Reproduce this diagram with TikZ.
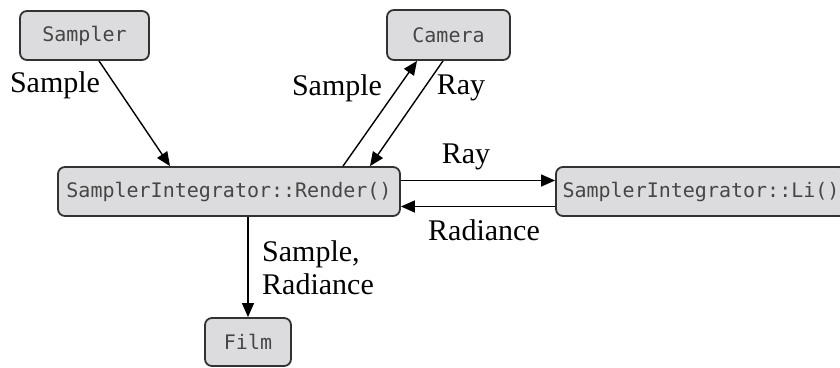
\documentclass[tikz,border=0pt]{standalone}
\usepackage{fontspec}
\setmainfont{Liberation Serif}
\setmonofont{DejaVu Sans Mono}
\usetikzlibrary{arrows.meta}
\definecolor{boxfill}{RGB}{220,220,222}
\definecolor{boxline}{RGB}{50,50,50}
\definecolor{codetext}{RGB}{70,70,70}
\tikzset{
  codebox/.style={draw=boxline, fill=boxfill, line width=1.8pt, rounded corners=7pt,
    inner sep=0pt, font=\ttfamily\fontsize{20}{22}\selectfont, text=codetext},
  flow/.style={line width=1.4pt, -{Triangle[length=14pt,width=12pt]}},
  lbl/.style={font=\fontsize{30}{33}\selectfont, text=black, inner sep=0pt}
}
\begin{document}
\begin{tikzpicture}[x=1pt,y=-1pt]
\clip (0,0) rectangle (840,367);
\fill[white] (0,0) rectangle (840,367);
\node[codebox, minimum width=129pt, minimum height=49pt] (sampler) at (84.5,35.5) {Sampler};
\node[codebox, minimum width=123pt, minimum height=50pt] (camera) at (448.5,35) {Camera};
\node[codebox, minimum width=342pt, minimum height=49pt] (render) at (229,191.5) {SamplerIntegrator::Render()};
\node[codebox, minimum width=290pt, minimum height=49pt] (li) at (701,191.5) {SamplerIntegrator::Li()};
\node[codebox, minimum width=86pt, minimum height=48pt] (film) at (248,342) {Film};

\draw[flow] ([xshift=14.5pt]sampler.south) -- ([xshift=-59pt]render.north);
\draw[flow] ([xshift=114pt]render.north) -- ([xshift=-31.5pt]camera.south);
\draw[flow] ([xshift=-5.5pt]camera.south) -- ([xshift=141pt]render.north);
\draw[flow] ([yshift=11pt]render.east) -- ([yshift=11pt]li.west);
\draw[flow] ([yshift=-15pt]li.west) -- ([yshift=-15pt]render.east);
\draw[flow] (render.south -| film.north) -- (film.north);

\node[lbl] (l1) at (55,85) {Sample};
\node[lbl] (l2) at (337,88) {Sample};
\node[lbl] (l3) at (461,88) {Ray};
\node[lbl] (l4) at (466,157) {Ray};
\node[lbl] (l5) at (484,230) {Radiance};
\node[lbl, align=left, anchor=west] (l6) at (262,268) {Sample,\\Radiance};
\end{tikzpicture}
\end{document}
